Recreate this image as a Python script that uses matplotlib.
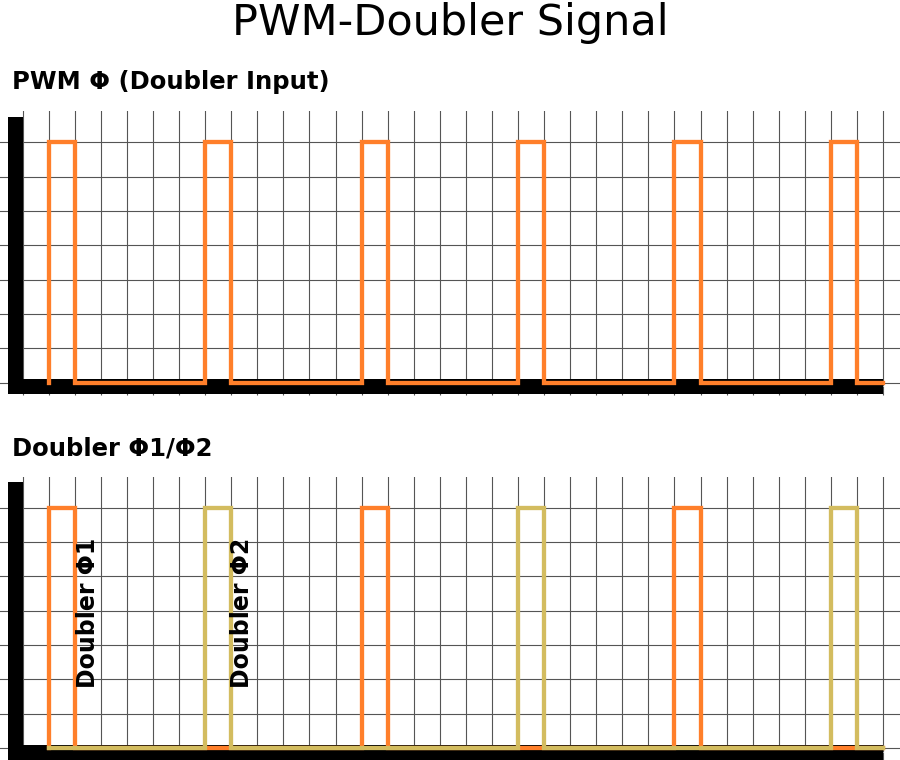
import matplotlib
matplotlib.use("Agg")
import matplotlib.pyplot as plt

# waveform step points (time, level)
pwm_t = [1, 1, 2, 7, 8, 13, 14, 19, 20, 25, 26, 31, 32, 33]
pwm_v = [0, 7, 0, 7, 0, 7, 0, 7, 0, 7, 0, 7, 0, 0]

phi1_t = [1, 1, 2, 13, 14, 25, 26, 33]
phi1_v = [0, 7, 0, 7, 0, 7, 0, 0]

phi2_t = [1, 7, 8, 19, 20, 31, 32, 33]
phi2_v = [0, 7, 0, 7, 0, 7, 0, 0]

x_ticks = list(range(0, 34))
y_ticks = list(range(0, 8))

ORANGE = "#ff7f2a"
GOLD = "#d3bc5f"
GRID = "#555555"


def style_axes(ax):
    ax.set_xlim(-0.276, 33.65)
    ax.set_ylim(-0.1, 7.9)
    ax.set_xticks(x_ticks)
    ax.set_yticks(y_ticks)
    ax.set_xticklabels([])
    ax.set_yticklabels([])
    ax.grid(True, color=GRID, linewidth=0.8)
    ax.set_axisbelow(True)
    ax.tick_params(axis="x", length=6.5, width=0.8, color=GRID)
    ax.tick_params(axis="y", length=11.5, width=0.8, color=GRID)
    for s in ("top", "right"):
        ax.spines[s].set_visible(False)
    for s in ("left", "bottom"):
        ax.spines[s].set_linewidth(10.8)
        ax.spines[s].set_color("black")
        ax.spines[s].set_capstyle("projecting")
    ax.spines["left"].set_bounds(-0.1, 7.54)
    ax.spines["bottom"].set_bounds(-0.276, 32.71)


fig = plt.figure(figsize=(9, 7.6), dpi=100)
ax1 = fig.add_axes([0.01722, 0.49211, 0.98278, 0.36145])
ax2 = fig.add_axes([0.01722, 0.01118, 0.98278, 0.36145])

style_axes(ax1)
style_axes(ax2)

ax1.plot(pwm_t, pwm_v, drawstyle="steps-post", color=ORANGE, lw=3.1,
         solid_joinstyle="miter", zorder=3, clip_on=False)

ax2.plot(phi1_t, phi1_v, drawstyle="steps-post", color=ORANGE, lw=3.1,
         solid_joinstyle="miter", zorder=3, clip_on=False)
ax2.plot(phi2_t, phi2_v, drawstyle="steps-post", color=GOLD, lw=3.1,
         solid_joinstyle="miter", zorder=4, clip_on=False)

ax2.text(2.5, 1.75, "Doubler Φ1", rotation=90, ha="center", va="bottom",
         fontsize=17, fontweight="bold", zorder=5)
ax2.text(8.4, 1.75, "Doubler Φ2", rotation=90, ha="center", va="bottom",
         fontsize=17, fontweight="bold", zorder=5)

fig.text(0.5, 1 - 35 / 760, "PWM-Doubler Signal", ha="center", va="baseline",
         fontsize=31)
fig.text(12 / 900, 1 - 89 / 760, "PWM Φ (Doubler Input)", ha="left",
         va="baseline", fontsize=17.5, fontweight="bold")
fig.text(12 / 900, 1 - 456 / 760, "Doubler Φ1/Φ2", ha="left",
         va="baseline", fontsize=17.5, fontweight="bold")

fig.savefig("out.png", dpi=100)
